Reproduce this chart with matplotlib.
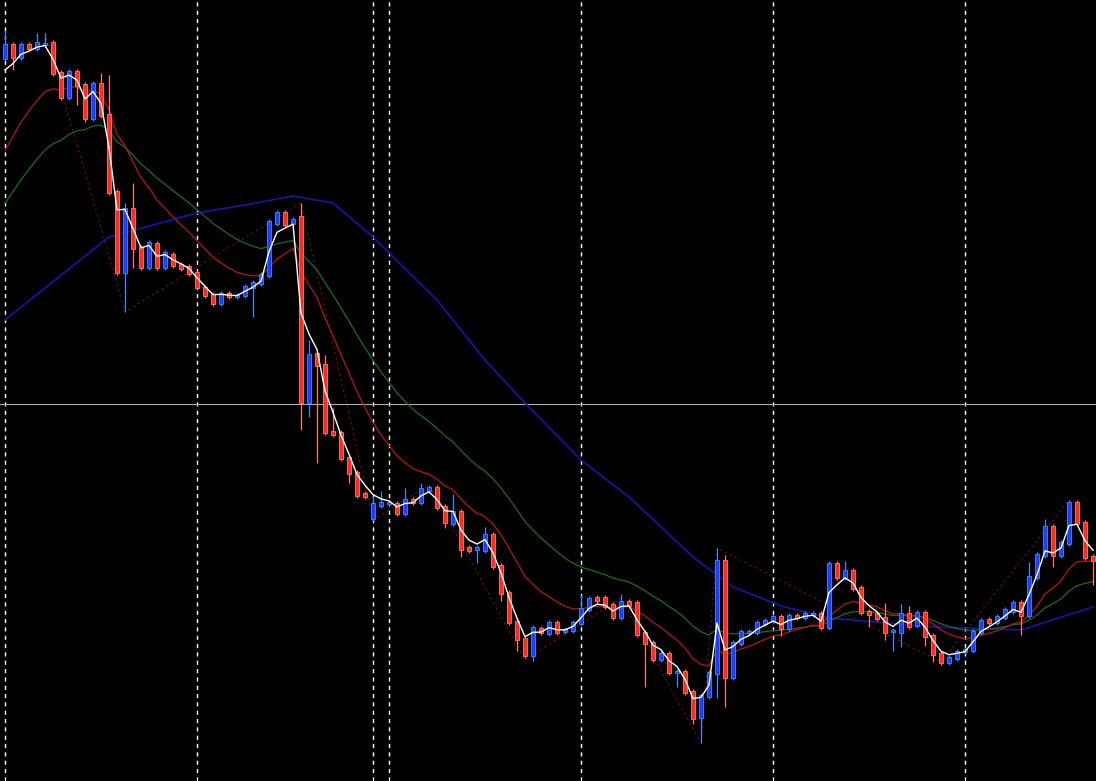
import numpy as np
import pandas as pd
import matplotlib
matplotlib.use("Agg")
import matplotlib.pyplot as plt

# candle bodies, price in screen units (axis is inverted: small = high)
opens = [58, 45, 57, 45, 48, 44, 43, 73, 97, 72, 85, 118, 84, 115, 192, 272, 209, 248, 267, 244,
         267, 255, 265, 267, 273, 288, 295, 303, 294, 296, 295, 287, 283, 275, 223, 213, 223, 217, 402, 354,
         365, 432, 433, 458, 473, 494, 518, 505, 503, 504, 513, 500, 502, 490, 488, 507, 523, 512, 548, 549,
         550, 535, 566, 593, 622, 639, 655, 629, 633, 623, 631, 630, 623, 609, 598, 598, 605, 617, 602, 603,
         633, 643, 659, 654, 672, 672, 692, 717, 696, 673, 561, 677, 643, 632, 632, 623, 620, 617, 628, 616,
         617, 614, 614, 627, 564, 577, 571, 588, 612, 614, 618, 631, 632, 614, 625, 613, 636, 654, 662, 658,
         651, 650, 632, 620, 622, 617, 611, 603, 615, 577, 555, 527, 555, 543, 503, 523, 557]
closes = [45, 57, 45, 48, 43, 44, 73, 97, 72, 85, 118, 84, 115, 192, 272, 209, 248, 267, 243, 267,
          253, 265, 268, 273, 287, 295, 303, 294, 296, 296, 287, 283, 275, 222, 213, 224, 220, 402, 355, 365,
          432, 434, 458, 473, 495, 496, 504, 503, 503, 513, 500, 502, 489, 488, 507, 522, 512, 549, 550, 548,
          535, 566, 593, 622, 639, 655, 628, 632, 623, 632, 630, 623, 609, 599, 600, 606, 617, 602, 605, 634,
          643, 659, 654, 672, 672, 692, 718, 696, 673, 561, 677, 643, 632, 632, 623, 621, 617, 628, 616, 617,
          614, 614, 627, 564, 577, 571, 588, 612, 614, 618, 632, 631, 614, 626, 613, 636, 654, 662, 658, 652,
          650, 632, 621, 622, 617, 610, 603, 615, 577, 555, 527, 555, 543, 503, 523, 557, 560]

# wick lengths beyond the body (default 3)
upper_wick = {0: 15, 4: 10, 5: 11, 12: 11, 13: 40, 15: 6, 16: 26, 37: 14, 38: 15, 40: 10, 41: 24,
              46: 8, 47: 12, 50: 12, 52: 6, 56: 18, 60: 8, 72: 14, 77: 8, 89: 13, 90: 6, 105: 10,
              110: 15, 112: 10, 113: 8, 128: 15, 130: 8}
lower_wick = {1: 13, 9: 20, 10: 4, 15: 40, 16: 20, 31: 30, 37: 28, 38: 15, 39: 98, 43: 10, 55: 6,
              57: 8, 59: 14, 62: 8, 64: 12, 66: 6, 80: 44, 84: 15, 86: 6, 87: 26, 89: 25, 90: 30,
              97: 8, 108: 13, 110: 8, 111: 20, 112: 15, 115: 10, 116: 8, 127: 20, 131: 12, 136: 25}

# slow blue average at a few candles
blue_idx = [0, 13, 24, 30, 36, 41, 46, 54, 60, 65, 72, 78, 86, 91, 97, 103, 116, 127, 136]
blue_val = [320, 237, 213, 205, 196, 203, 237, 300, 360, 403, 460, 497, 557, 587, 606, 618, 627, 630, 607]

# zigzag pivots
zz_idx = [5, 15, 37, 46, 53, 65, 77, 87, 89, 117, 133]
zz_val = [33, 312, 203, 520, 485, 660, 598, 743, 548, 662, 500]

# (period, starting level) of the fast averages
seeds = {"white": (3, 95), "red": (12, 170), "green": (24, 217)}

separators = [0, 24, 46, 48, 72, 96, 120]
hline_level = 404

n = len(closes)
x = np.arange(n)
o = np.array(opens, float)
c = np.array(closes, float)
hi = np.minimum(o, c) - np.array([upper_wick.get(i, 3) for i in range(n)])
lo = np.maximum(o, c) + np.array([lower_wick.get(i, 3) for i in range(n)])

fig = plt.figure(figsize=(10.96, 7.81), dpi=100, facecolor="black")
ax = fig.add_axes([0, 0, 1, 1], facecolor="black")
ax.set_xlim(-5 / 8, (1096 - 5) / 8)
ax.set_ylim(781, 0)
ax.axis("off")

for s in separators:
    ax.axvline(s, color="white", lw=1, ls=(0, (3, 3)), zorder=1)
ax.axhline(hline_level, color="#b0b0b0", lw=0.8, zorder=1)

ax.plot(blue_idx, blue_val, color="#1515b0", lw=1.2, zorder=2)
ax.plot(zz_idx, zz_val, color="#7a1010", lw=0.8, ls=(0, (2, 3)), zorder=2)

def ema(period, seed):
    a = 2 / (period + 1)
    out = []
    e = seed
    for v in c:
        e = a * v + (1 - a) * e
        out.append(e)
    return np.array(out)

ax.plot(x, ema(*seeds["green"]), color="#1a6e1a", lw=0.9, zorder=3)
ax.plot(x, ema(*seeds["red"]), color="#b81616", lw=0.9, zorder=3)

up = c <= o
body_col = np.where(up, "#1f3cff", "#ff2a22")
wick_col = np.where(up, "#3a8cff", "#ff7a6a")
ax.vlines(x, hi, lo, colors=wick_col, lw=0.9, zorder=4)
ax.bar(x, np.abs(o - c) + 1.5, bottom=np.minimum(o, c) - 0.75, width=0.62,
       color=body_col, edgecolor=wick_col, linewidth=0.6, zorder=5)

ax.plot(x, ema(*seeds["white"]), color="white", lw=1.0, zorder=6)

fig.savefig("out.png", dpi=100, facecolor="black")
